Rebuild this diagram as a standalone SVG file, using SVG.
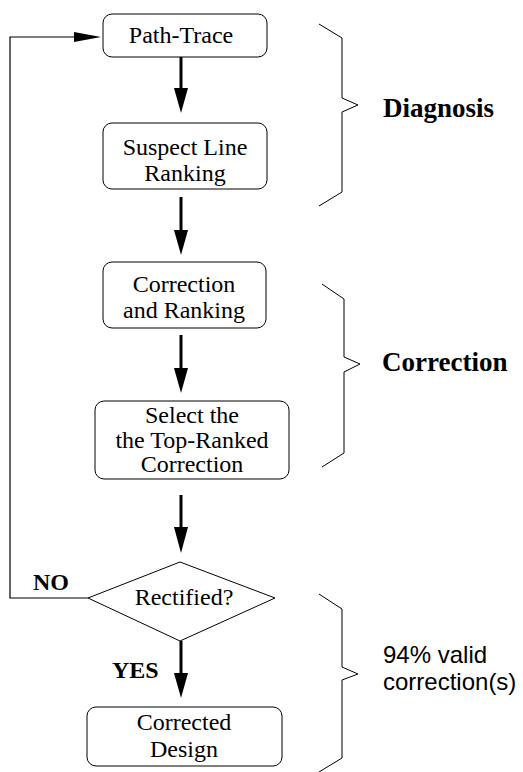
<svg xmlns="http://www.w3.org/2000/svg" width="523" height="772" viewBox="0 0 523 772">
<style>
.box{fill:#fff;stroke:#000;stroke-width:1}
.t{font-family:"Liberation Serif",serif;font-size:24px;fill:#000;text-anchor:middle}
.b{font-family:"Liberation Serif",serif;font-size:27px;font-weight:bold;fill:#000}
.nb{font-family:"Liberation Serif",serif;font-size:24px;font-weight:bold;fill:#000}
.s{font-family:"Liberation Sans",sans-serif;font-size:24px;fill:#000}
.thick{stroke:#000;stroke-width:3;fill:none}
.thin{stroke:#000;stroke-width:1.2;fill:none}
.brace{stroke:#000;stroke-width:1;fill:none}
</style>
<rect width="523" height="772" fill="#fff"/>
<g id="connectors">
<line class="thick" x1="181" y1="57" x2="181" y2="90"/><polygon points="174,88 188,88 181,113"/>
<line class="thick" x1="181" y1="197" x2="181" y2="232"/><polygon points="174,230 188,230 181,255"/>
<line class="thick" x1="181" y1="335" x2="181" y2="370"/><polygon points="174,368 188,368 181,393"/>
<line class="thick" x1="181" y1="495" x2="181" y2="529"/><polygon points="174,527 188,527 181,553"/>
<line class="thick" x1="181" y1="641" x2="181" y2="675"/><polygon points="174,673 188,673 181,698"/>
<polyline class="thin" points="88,598 10,598 10,37 76,37"/><polygon points="74,32 101,37 74,42"/>
</g>
<g id="path-trace"><rect class="box" x="103" y="14" width="164" height="43" rx="9"/><text class="t" x="181" y="43">Path-Trace</text></g>
<g id="suspect-line-ranking"><rect class="box" x="103" y="123" width="164" height="66" rx="9"/><text class="t" x="185" y="155">Suspect Line</text><text class="t" x="185" y="181">Ranking</text></g>
<g id="correction-ranking"><rect class="box" x="103" y="262" width="163" height="66" rx="9"/><text class="t" x="184" y="292">Correction</text><text class="t" x="184" y="318">and Ranking</text></g>
<g id="select-top"><rect class="box" x="95" y="401" width="194" height="78" rx="9"/><text class="t" x="192" y="423">Select the</text><text class="t" x="192" y="448">the Top-Ranked</text><text class="t" x="192" y="472">Correction</text></g>
<g id="rectified"><polygon class="box" points="180,562 275,598 180,641 88,598"/><text class="t" x="184" y="605">Rectified?</text></g>
<g id="corrected-design"><rect class="box" x="87" y="707" width="195" height="59" rx="9"/><text class="t" x="184" y="730">Corrected</text><text class="t" x="184" y="757">Design</text></g>
<text class="nb" x="33" y="590">NO</text>
<text class="nb" x="112" y="678">YES</text>
<g id="diagnosis-brace"><polyline class="brace" points="319,24 342,38 342,98 358,105 342,112 342,192 319,206"/><text class="b" x="383" y="117">Diagnosis</text></g>
<g id="correction-brace"><polyline class="brace" points="322,284 344,299 344,357 360,364 344,372 344,453 322,467"/><text class="b" x="382" y="371">Correction</text></g>
<g id="result-brace"><polyline class="brace" points="319,594 342,609 342,667 358,674 342,680 342,758 319,772"/><text class="s" x="383" y="663">94% valid</text><text class="s" x="383" y="690">correction(s)</text></g>
</svg>
